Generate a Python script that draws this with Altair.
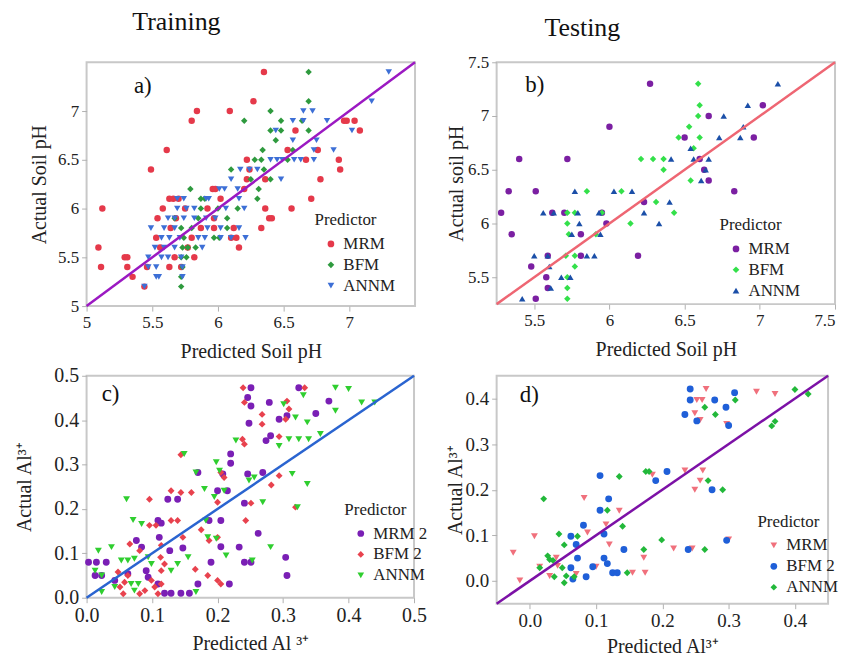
import altair as alt
import pandas as pd

FONT = "Liberation Serif"

# ---------------- panel a) training, soil pH ----------------
a_mrm_x = [6.35, 6.27, 5.84, 5.80, 6.09, 5.61, 5.49, 5.12, 5.09, 5.11, 5.29, 5.31, 5.31, 5.35, 5.44, 5.46,
           5.63, 5.66, 5.58, 5.54, 5.64, 5.53, 5.56, 5.63, 5.67, 5.72, 5.80, 5.77, 5.82, 5.96, 5.98, 6.02,
           5.92, 5.97, 5.97, 6.10, 6.14, 6.16, 6.12, 6.22, 6.24, 6.22, 6.20, 6.36, 6.39, 6.41, 6.33, 6.59,
           6.53, 6.67, 6.76, 6.78, 6.71, 6.56, 6.92, 6.93, 6.96, 6.98, 6.36, 5.68, 5.75, 5.87, 7.04, 7.08, 5.70]
a_mrm_y = [7.4, 7.1, 7.0, 6.9, 7.0, 6.6, 6.4, 6.0, 5.6, 5.4, 5.5, 5.5, 5.4, 5.3, 5.2, 5.4,
           6.1, 6.1, 6.0, 5.9, 5.8, 5.7, 5.6, 5.4, 5.5, 5.4, 5.7, 5.6, 5.5, 6.2, 6.2, 6.1,
           6.0, 5.9, 5.8, 5.7, 5.7, 5.6, 5.8, 6.5, 6.4, 6.3, 6.2, 6.0, 5.9, 5.9, 5.8, 6.8,
           6.6, 6.5, 6.6, 6.3, 6.1, 6.0, 6.5, 6.4, 6.9, 6.9, 6.3, 5.9, 6.0, 5.8, 6.9, 6.8, 6.1]
a_bfm_x = [6.69, 6.69, 6.40, 6.20, 6.48, 6.64, 6.40, 6.48, 6.69, 6.44, 6.34, 6.57, 6.28, 6.33, 6.10, 6.40,
           6.31, 6.30, 5.79, 5.87, 5.87, 6.07, 6.15, 5.97, 6.01, 6.07, 5.72, 5.74, 5.73, 5.77, 5.72, 5.76,
           5.73, 5.72, 5.72, 5.67, 5.80, 5.85, 6.00, 6.35, 6.53, 6.25, 5.90, 5.83]
a_bfm_y = [7.4, 7.1, 7.0, 6.9, 6.9, 6.9, 6.8, 6.8, 6.8, 6.7, 6.6, 6.6, 6.5, 6.5, 6.4, 6.3,
           6.2, 6.1, 6.2, 6.1, 6.0, 5.9, 6.0, 5.7, 5.7, 5.8, 5.8, 5.7, 5.6, 5.6, 5.5, 5.5,
           5.4, 5.3, 5.2, 5.9, 5.8, 5.9, 6.0, 6.4, 6.5, 6.3, 6.1, 5.6]
a_annm_x = [6.65, 6.72, 6.57, 6.65, 6.44, 6.57, 6.75, 6.83, 7.02, 6.73, 6.40, 6.45, 6.49, 6.58, 6.63, 6.73,
            6.17, 6.24, 6.30, 6.10, 6.48, 6.01, 6.05, 6.15, 5.69, 5.74, 5.91, 5.93, 6.16, 5.69, 5.76, 5.82,
            6.06, 6.20, 5.62, 5.67, 5.74, 5.82, 5.91, 5.98, 5.49, 5.59, 5.67, 5.92, 6.02, 6.16, 5.57, 5.63,
            5.71, 5.85, 5.90, 6.02, 6.10, 6.21, 5.52, 5.59, 5.67, 5.88, 5.47, 5.57, 5.62, 5.72, 5.47, 5.53,
            5.73, 5.53, 5.55, 5.73, 5.44, 7.30, 7.17, 6.88]
a_annm_y = [7.0, 7.0, 6.9, 6.9, 6.8, 6.7, 6.7, 6.9, 6.8, 6.6, 6.5, 6.5, 6.5, 6.5, 6.5, 6.5,
            6.4, 6.4, 6.4, 6.3, 6.3, 6.2, 6.2, 6.2, 6.1, 6.1, 6.1, 6.1, 6.1, 6.0, 6.0, 6.0,
            6.0, 6.0, 5.9, 5.9, 5.9, 5.9, 5.9, 5.9, 5.8, 5.8, 5.8, 5.8, 5.8, 5.8, 5.7, 5.7,
            5.7, 5.7, 5.7, 5.7, 5.7, 5.7, 5.6, 5.6, 5.6, 5.6, 5.5, 5.5, 5.5, 5.5, 5.4, 5.4,
            5.4, 5.3, 5.3, 5.3, 5.2, 7.4, 7.1, 6.6]

# ---------------- panel b) testing, soil pH ----------------
b_mrm_x = [6.27, 6.00, 5.40, 5.72, 5.33, 5.51, 5.28, 5.35, 5.70, 5.95, 5.98, 5.81, 6.23, 5.59, 5.81, 5.48,
           5.58, 5.59, 5.51, 6.19, 6.50, 6.66, 6.60, 6.63, 6.66, 6.83, 6.96, 7.02, 5.62]
b_mrm_y = [7.3, 6.9, 6.6, 6.6, 6.3, 6.3, 6.1, 5.9, 6.1, 6.1, 6.0, 5.9, 6.2, 5.7, 5.7, 5.6,
           5.5, 5.4, 5.3, 5.7, 6.8, 7.0, 6.6, 6.5, 6.4, 6.3, 6.8, 7.1, 6.1]
b_bfm_x = [6.59, 6.60, 6.59, 6.53, 6.46, 6.60, 6.56, 6.21, 6.29, 6.36, 6.36, 6.54, 5.85, 6.08, 6.31, 6.43,
           5.72, 5.77, 5.72, 6.14, 5.73, 5.91, 5.95, 5.71, 5.77, 5.77, 5.72, 5.72, 5.72]
b_bfm_y = [7.3, 7.1, 7.0, 6.9, 6.8, 6.8, 6.7, 6.6, 6.6, 6.6, 6.5, 6.4, 6.3, 6.3, 6.2, 6.1,
           6.1, 6.1, 6.0, 6.0, 5.9, 5.9, 6.1, 5.7, 5.7, 5.6, 5.5, 5.4, 5.3]
b_annm_x = [6.92, 6.76, 6.89, 6.73, 6.87, 6.54, 6.41, 6.56, 6.66, 6.64, 6.61, 5.77, 6.03, 6.15, 5.56, 5.63,
            5.79, 5.93, 6.23, 6.40, 6.33, 5.80, 5.75, 5.94, 5.50, 5.59, 5.85, 5.90, 5.60, 5.68, 5.74, 5.61,
            5.42, 7.12]
b_annm_y = [7.1, 7.0, 6.9, 6.8, 6.8, 6.7, 6.6, 6.6, 6.6, 6.5, 6.4, 6.3, 6.3, 6.3, 6.1, 6.1,
            6.1, 6.1, 6.1, 6.2, 6.0, 6.0, 5.9, 5.9, 5.7, 5.7, 5.7, 5.7, 5.6, 5.5, 5.5, 5.4,
            5.3, 7.3]

# ---------------- panel c) training, Al3+ ----------------
c_mrm_x = [0.251, 0.324, 0.246, 0.251, 0.279, 0.294, 0.248, 0.306, 0.350, 0.370, 0.281, 0.274, 0.220, 0.220,
           0.170, 0.208, 0.246, 0.269, 0.200, 0.215, 0.124, 0.139, 0.241, 0.109, 0.114, 0.187, 0.205, 0.076,
           0.084, 0.111, 0.127, 0.147, 0.233, 0.241, 0.251, 0.304, 0.306, 0.218, 0.170, 0.003, 0.015, 0.030,
           0.013, 0.023, 0.091, 0.094, 0.109, 0.129, 0.144, 0.157, 0.119, 0.043, 0.063, 0.190, 0.205, 0.262]
c_mrm_y = [0.473, 0.473, 0.451, 0.432, 0.440, 0.402, 0.393, 0.410, 0.415, 0.443, 0.365, 0.354, 0.324, 0.303,
           0.282, 0.279, 0.279, 0.282, 0.241, 0.241, 0.222, 0.222, 0.213, 0.174, 0.168, 0.174, 0.174, 0.129,
           0.114, 0.136, 0.106, 0.112, 0.114, 0.080, 0.080, 0.091, 0.050, 0.031, 0.031, 0.080, 0.080, 0.080,
           0.050, 0.050, 0.061, 0.046, 0.031, 0.010, 0.010, 0.010, 0.010, 0.039, 0.054, 0.080, 0.115, 0.145]
c_bfm_x = [0.239, 0.333, 0.241, 0.268, 0.268, 0.306, 0.309, 0.304, 0.294, 0.238, 0.241, 0.144, 0.205, 0.210,
           0.294, 0.282, 0.129, 0.144, 0.160, 0.096, 0.200, 0.251, 0.319, 0.096, 0.106, 0.129, 0.139, 0.066,
           0.081, 0.114, 0.147, 0.175, 0.200, 0.243, 0.187, 0.113, 0.119, 0.114, 0.048, 0.063, 0.058, 0.051,
           0.056, 0.099, 0.104, 0.114, 0.109, 0.081, 0.089, 0.185, 0.200, 0.205, 0.166]
c_bfm_y = [0.473, 0.473, 0.440, 0.413, 0.391, 0.443, 0.425, 0.402, 0.363, 0.357, 0.346, 0.322, 0.282, 0.271,
           0.275, 0.254, 0.241, 0.237, 0.237, 0.222, 0.215, 0.213, 0.204, 0.163, 0.163, 0.174, 0.174, 0.121,
           0.106, 0.118, 0.136, 0.153, 0.136, 0.174, 0.129, 0.091, 0.076, 0.061, 0.058, 0.050, 0.035, 0.024,
           0.009, 0.039, 0.024, 0.031, 0.009, 0.009, 0.016, 0.050, 0.039, 0.031, 0.064]
c_annm_x = [0.380, 0.331, 0.301, 0.319, 0.337, 0.380, 0.357, 0.294, 0.309, 0.324, 0.339, 0.228, 0.149, 0.198,
            0.203, 0.167, 0.256, 0.248, 0.314, 0.337, 0.061, 0.180, 0.195, 0.210, 0.269, 0.322, 0.071, 0.084,
            0.182, 0.281, 0.185, 0.198, 0.018, 0.038, 0.053, 0.063, 0.073, 0.094, 0.099, 0.139, 0.155, 0.213,
            0.253, 0.013, 0.023, 0.043, 0.023, 0.068, 0.079, 0.073, 0.167, 0.129, 0.420, 0.400, 0.440]
c_annm_y = [0.473, 0.456, 0.436, 0.406, 0.395, 0.421, 0.369, 0.342, 0.357, 0.357, 0.357, 0.354, 0.324, 0.305,
            0.286, 0.282, 0.271, 0.264, 0.279, 0.256, 0.222, 0.245, 0.227, 0.241, 0.215, 0.204, 0.175, 0.166,
            0.174, 0.114, 0.136, 0.133, 0.106, 0.114, 0.084, 0.084, 0.088, 0.091, 0.076, 0.076, 0.091, 0.095,
            0.084, 0.061, 0.050, 0.024, 0.013, 0.031, 0.031, 0.016, 0.013, 0.061, 0.440, 0.470, 0.440]

# ---------------- panel d) testing, Al3+ ----------------
d_mrm_x = [0.266, 0.342, 0.252, 0.260, 0.249, 0.257, 0.297, 0.234, 0.261, 0.185, 0.257, 0.249, 0.082, 0.135,
           0.115, 0.087, 0.007, 0.120, 0.217, 0.245, 0.172, -0.025, -0.015, 0.015, 0.040, 0.042, 0.030, 0.070,
           0.100, 0.155, 0.174, 0.300, 0.370]
d_mrm_y = [0.421, 0.415, 0.397, 0.397, 0.368, 0.353, 0.344, 0.242, 0.242, 0.233, 0.220, 0.200, 0.182, 0.154,
           0.124, 0.106, 0.098, 0.080, 0.071, 0.071, 0.051, 0.062, 0.001, 0.031, 0.051, 0.033, 0.011, 0.015,
           0.031, 0.018, 0.018, 0.091, 0.410]
d_bfm_x = [0.242, 0.242, 0.234, 0.252, 0.279, 0.296, 0.300, 0.309, 0.207, 0.190, 0.275, 0.106, 0.119, 0.106,
           0.081, 0.112, 0.062, 0.070, 0.072, 0.062, 0.065, 0.112, 0.117, 0.125, 0.132, 0.142, 0.095, 0.085,
           0.239, 0.297]
d_bfm_y = [0.421, 0.397, 0.365, 0.351, 0.397, 0.381, 0.341, 0.413, 0.240, 0.220, 0.200, 0.231, 0.180, 0.155,
           0.122, 0.103, 0.098, 0.080, 0.050, 0.029, 0.004, 0.050, 0.038, 0.018, 0.018, 0.069, 0.031, 0.009,
           0.069, 0.089]
d_annm_x = [0.310, 0.264, 0.280, 0.175, 0.180, 0.135, 0.269, 0.291, 0.021, 0.117, 0.140, 0.044, 0.052, 0.072,
            0.199, 0.172, 0.264, 0.027, 0.030, 0.015, 0.049, 0.055, 0.037, 0.067, 0.052, 0.147, 0.400, 0.420,
            0.370, 0.365, 0.035]
d_annm_y = [0.397, 0.381, 0.365, 0.240, 0.240, 0.229, 0.220, 0.200, 0.180, 0.155, 0.120, 0.103, 0.079, 0.098,
            0.090, 0.069, 0.069, 0.055, 0.047, 0.029, 0.029, 0.011, 0.009, 0.009, -0.004, 0.018, 0.420, 0.410,
            0.350, 0.340, 0.045]

# 1:1 reference lines
ph_a_line = [5.0, 7.5]
ph_b_line = [5.25, 7.5]
al_c_line = [0.0, 0.5]
al_d_line = [-0.05, 0.45]


def table(names, xs_list, ys_list):
    rows = []
    for n, xs, ys in zip(names, xs_list, ys_list):
        for x, y in zip(xs, ys):
            rows.append({"Predicted": x, "Actual": y, "Predictor": n})
    return pd.DataFrame(rows)


def panel(df, names, colors, shapes, xdom, ydom, xvals, yvals, fmt, xtitle, ytitle,
          line_vals, line_color, label, label_xy, w, h, lx, ly, labsize, msize,
          xtp, ytp, title=None, xflush=False):
    x_enc = alt.X("Predicted:Q", scale=alt.Scale(domain=xdom, nice=False, zero=False),
                  axis=alt.Axis(values=xvals, format=fmt, title=xtitle, titlePadding=xtp,
                                labelFontSize=labsize, labelFlush=xflush))
    y_enc = alt.Y("Actual:Q", scale=alt.Scale(domain=ydom, nice=False, zero=False),
                  axis=alt.Axis(values=yvals, format=fmt, title=ytitle, titlePadding=ytp,
                                labelFontSize=labsize))
    leg = alt.Legend(orient="none", legendX=lx, legendY=ly, title="Predictor",
                     titleFont=FONT, titleFontSize=17, titleFontWeight="normal", titleColor="#222",
                     labelFont=FONT, labelFontSize=17, labelColor="#222",
                     symbolSize=45, symbolOffset=8, rowPadding=3, titlePadding=6, padding=0)
    pts = alt.Chart(df).mark_point(filled=True, opacity=1, size=msize).encode(
        x=x_enc, y=y_enc,
        color=alt.Color("Predictor:N", scale=alt.Scale(domain=names, range=colors), legend=leg),
        shape=alt.Shape("Predictor:N", scale=alt.Scale(domain=names, range=shapes), legend=leg),
    )
    ldf = pd.DataFrame({"Predicted": line_vals, "Actual": line_vals})
    line = alt.Chart(ldf).mark_line(color=line_color, strokeWidth=2.5).encode(
        x="Predicted:Q", y="Actual:Q")
    tdf = pd.DataFrame({"Predicted": [label_xy[0]], "Actual": [label_xy[1]], "t": [label]})
    txt = alt.Chart(tdf).mark_text(align="left", baseline="middle", font=FONT, fontSize=23,
                                   color="#111").encode(x="Predicted:Q", y="Actual:Q", text="t:N")
    ch = alt.layer(pts, line, txt).properties(width=w, height=h)
    if title is not None:
        ch = ch.properties(title=title)
    return ch


names_a = ["MRM", "BFM", "ANNM"]
pa = panel(table(names_a, [a_mrm_x, a_bfm_x, a_annm_x], [a_mrm_y, a_bfm_y, a_annm_y]),
           names_a, ["#e5394a", "#2e9a3e", "#3d6fd6"], ["circle", "diamond", "triangle-down"],
           [5, 7.5], [5, 7.5], [5, 5.5, 6, 6.5, 7], [5, 5.5, 6, 6.5, 7], "~g",
           "Predicted Soil pH", "Actual Soil pH", ph_a_line, "#9b19c2", "a)", (5.36, 7.26),
           330, 245, 229, 151, 17, 42, 12, 8,
           title=alt.TitleParams("Training", anchor="start", frame="group", dx=46, offset=22,
                                 font=FONT, fontSize=26, fontWeight="normal", color="#111"))

pb = panel(table(names_a, [b_mrm_x, b_bfm_x, b_annm_x], [b_mrm_y, b_bfm_y, b_annm_y]),
           names_a, ["#7b1fa2", "#33e04a", "#1b4fa8"], ["circle", "diamond", "triangle-up"],
           [5.25, 7.5], [5.25, 7.5], [5.5, 6, 6.5, 7, 7.5], [5.5, 6, 6.5, 7, 7.5], "~g",
           "Predicted Soil pH", "Actual soil pH", ph_b_line, "#ee6673", "b)", (5.44, 7.29),
           340, 243, 224, 156, 17, 42, 12, 1,
           title=alt.TitleParams("Testing", anchor="start", frame="group", dx=48, offset=12,
                                 font=FONT, fontSize=26, fontWeight="normal", color="#111"),
           xflush=True)

names_c = ["MRM 2", "BFM 2", "ANNM"]
pc = panel(table(names_c, [c_mrm_x, c_bfm_x, c_annm_x], [c_mrm_y, c_bfm_y, c_annm_y]),
           names_c, ["#7a1fb5", "#e8424e", "#2fce2f"], ["circle", "diamond", "triangle-down"],
           [0, 0.5], [0, 0.5], [0, 0.1, 0.2, 0.3, 0.4, 0.5], [0, 0.1, 0.2, 0.3, 0.4, 0.5], ".1f",
           "Predicted Al ³⁺", "Actual Al³⁺", al_c_line, "#2a64d0", "c)", (0.023, 0.459),
           329, 223, 259, 127, 20, 48, 8, 19)

names_d = ["MRM", "BFM 2", "ANNM"]
pd_ = panel(table(names_d, [d_mrm_x, d_bfm_x, d_annm_x], [d_mrm_y, d_bfm_y, d_annm_y]),
            names_d, ["#f0707c", "#1f5fd8", "#22b83a"], ["triangle-down", "circle", "diamond"],
            [-0.05, 0.45], [-0.05, 0.45], [0, 0.1, 0.2, 0.3, 0.4], [0, 0.1, 0.2, 0.3, 0.4], ".1f",
            "Predicted Al³⁺", "Actual Al³⁺", al_d_line, "#7c11a6", "d)", (-0.015, 0.407),
            333, 229, 262, 139, 19, 48, 6, 0)

chart = alt.concat(pa, pb, pc, pd_, columns=2, spacing={"row": 70, "column": 82},
                   bounds="flush").resolve_scale(
    x="independent", y="independent", color="independent", shape="independent"
).configure_view(stroke="#c8c8c8", strokeWidth=2).configure_axis(
    domain=False, grid=False, tickColor="#b0b0b0", tickSize=5, tickWidth=1,
    labelFont=FONT, titleFont=FONT, labelColor="#222", titleColor="#222",
    titleFontWeight="normal", titleFontSize=20, labelPadding=3
).properties(padding={"left": 14, "top": 7, "right": 0, "bottom": 0})

chart.save("out.html", embed_options={"renderer": "svg", "actions": False})
